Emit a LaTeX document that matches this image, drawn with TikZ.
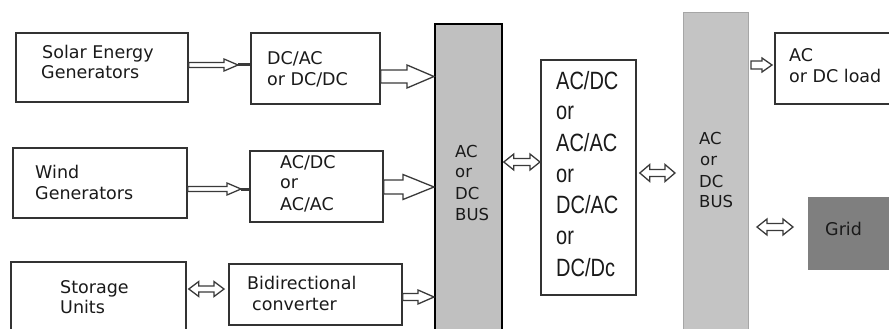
\documentclass[tikz,border=0pt]{standalone}
\usepackage{fontspec}
\setmainfont{DejaVu Sans}
\newfontfamily\narrowfont[FakeStretch=0.8]{Liberation Sans}
\usetikzlibrary{calc}
\definecolor{boxline}{HTML}{333333}
\definecolor{arrline}{HTML}{3A3A3A}
\definecolor{txt}{HTML}{1A1A1A}
\definecolor{busfill}{HTML}{C0C0C0}
\definecolor{bustwofill}{HTML}{C4C4C4}
\definecolor{gridfill}{HTML}{7F7F7F}
\newcommand\onearrow[5]{\draw[arr] let \p1=#1, \p2=#2 in
  (\x1,\y1+#3pt) -- (\x2-#5pt,\y1+#3pt) -- (\x2-#5pt,\y1+#4pt) -- (\x2,\y1)
  -- (\x2-#5pt,\y1-#4pt) -- (\x2-#5pt,\y1-#3pt) -- (\x1,\y1-#3pt) -- cycle;}
\newcommand\twoarrow[5]{\draw[arr] let \p1=#1, \p2=#2 in
  (\x1,\y1) -- (\x1+#5pt,\y1+#4pt) -- (\x1+#5pt,\y1+#3pt) -- (\x2-#5pt,\y1+#3pt)
  -- (\x2-#5pt,\y1+#4pt) -- (\x2,\y1) -- (\x2-#5pt,\y1-#4pt) -- (\x2-#5pt,\y1-#3pt)
  -- (\x1+#5pt,\y1-#3pt) -- (\x1+#5pt,\y1-#4pt) -- cycle;}
\begin{document}
\begin{tikzpicture}[x=1pt,y=-1pt,
  box/.style={draw=boxline, line width=1.8pt, fill=white, inner sep=0pt, anchor=north west},
  busone/.style={draw=black, line width=1.8pt, fill=busfill, inner sep=0pt, anchor=north west},
  bustwo/.style={draw=black!35, line width=1pt, fill=bustwofill, inner sep=0pt, anchor=north west},
  gridbox/.style={draw=none, fill=gridfill, inner sep=0pt, anchor=north west},
  lbl/.style={anchor=base west, inner sep=0pt, text=txt, font=\fontsize{17.5}{20}\selectfont},
  buslbl/.style={lbl, font=\fontsize{16.5}{20}\selectfont},
  midlbl/.style={anchor=base west, inner sep=0pt, text=txt, font=\narrowfont\fontsize{25}{30}\selectfont},
  arr/.style={draw=arrline, line width=1.3pt, fill=white, line join=miter},
  stub/.style={draw=arrline, line width=3pt}]
\useasboundingbox (0,0) rectangle (889,329);

% boxes
\node[box, minimum width=172pt, minimum height=69pt] (solar) at (15,32) {};
\node[box, minimum width=129pt, minimum height=71pt] (dcac) at (250,32) {};
\node[box, minimum width=174pt, minimum height=70pt] (wind) at (12,147) {};
\node[box, minimum width=133pt, minimum height=71pt] (acdc) at (249,150) {};
\node[box, minimum width=175pt, minimum height=90pt] (stor) at (10,261) {};
\node[box, minimum width=173pt, minimum height=61pt] (bidir) at (228,263) {};
\node[busone, minimum width=67pt, minimum height=330pt] (bus1) at (434,23) {};
\node[box, minimum width=95pt, minimum height=235pt] (mid) at (540,59) {};
\node[bustwo, minimum width=65pt, minimum height=340pt] (bus2) at (683,12) {};
\node[box, minimum width=130pt, minimum height=71pt] (load) at (774,32) {};
\node[gridbox, minimum width=90pt, minimum height=73pt] (grid) at (808,197) {};

% labels
\node[lbl] (solarA) at (42,59) {Solar Energy};
\node[lbl] (solarB) at (41,78) {Generators};
\node[lbl] (dcacA) at (267,64) {DC/AC};
\node[lbl] (dcacB) at (267,85) {or DC/DC};
\node[lbl] (windA) at (35,178) {Wind};
\node[lbl] (windB) at (35,199) {Generators};
\node[lbl] (acdcA) at (280,168) {AC/DC};
\node[lbl] (acdcB) at (280,188) {or};
\node[lbl] (acdcC) at (280,210) {AC/AC};
\node[lbl] (storA) at (60,293) {Storage};
\node[lbl] (storB) at (60,313) {Units};
\node[lbl] (bidirA) at (247,289) {Bidirectional};
\node[lbl] (bidirB) at (252,310) {converter};
\node[buslbl] (busoneA) at (455,157) {AC};
\node[buslbl] (busoneB) at (455,177) {or};
\node[buslbl] (busoneC) at (455,199) {DC};
\node[buslbl] (busoneD) at (455,220) {BUS};
\node[midlbl] (midA) at (556,89) {AC/DC};
\node[midlbl] (midB) at (556,119) {or};
\node[midlbl] (midC) at (556,151) {AC/AC};
\node[midlbl] (midD) at (556,182) {or};
\node[midlbl] (midE) at (556,213) {DC/AC};
\node[midlbl] (midF) at (556,244) {or};
\node[midlbl] (midG) at (556,276) {DC/Dc};
\node[buslbl] (bustwoA) at (699,144) {AC};
\node[buslbl] (bustwoB) at (700,165) {or};
\node[buslbl] (bustwoC) at (699,187) {DC};
\node[buslbl] (bustwoD) at (699,207) {BUS};
\node[lbl] (loadA) at (789,62) {AC};
\node[lbl] (loadB) at (789,83) {or DC load};
\node[lbl] (gridA) at (825,235) {Grid};

% connectors
\onearrow{(solar.east |- 0,65)}{($(dcac.west |- 0,65)+(-12,0)$)}{2.5}{6}{14}
\draw[stub] ($(dcac.west |- 0,65)+(-12,0)$) -- (dcac.west |- 0,65);
\onearrow{(dcac.east |- 0,76.5)}{(bus1.west |- 0,76.5)}{6.5}{11.5}{27}
\onearrow{(wind.east |- 0,189)}{($(acdc.west |- 0,189)+(-8,0)$)}{2.5}{6}{14}
\draw[stub] ($(acdc.west |- 0,189)+(-8,0)$) -- (acdc.west |- 0,189);
\onearrow{(acdc.east |- 0,187)}{(bus1.west |- 0,187)}{7}{12.5}{31}
\twoarrow{($(stor.east |- 0,289)+(2,0)$)}{($(bidir.west |- 0,289)+(-4,0)$)}{3}{7.5}{10}
\onearrow{(bidir.east |- 0,297)}{(bus1.west |- 0,297)}{3.5}{7}{16}
\twoarrow{($(bus1.east |- 0,162)+(1,0)$)}{(mid.west |- 0,162)}{3.5}{8}{10}
\twoarrow{($(mid.east |- 0,173)+(3,0)$)}{($(bus2.west |- 0,173)+(-8,0)$)}{3.5}{8.5}{10}
\onearrow{($(bus2.east |- 0,65)+(2,0)$)}{($(load.west |- 0,65)+(-2,0)$)}{4}{7}{10}
\twoarrow{($(bus2.east |- 0,227)+(8,0)$)}{($(grid.west |- 0,227)+(-15,0)$)}{3.5}{8}{10}
\end{tikzpicture}
\end{document}
